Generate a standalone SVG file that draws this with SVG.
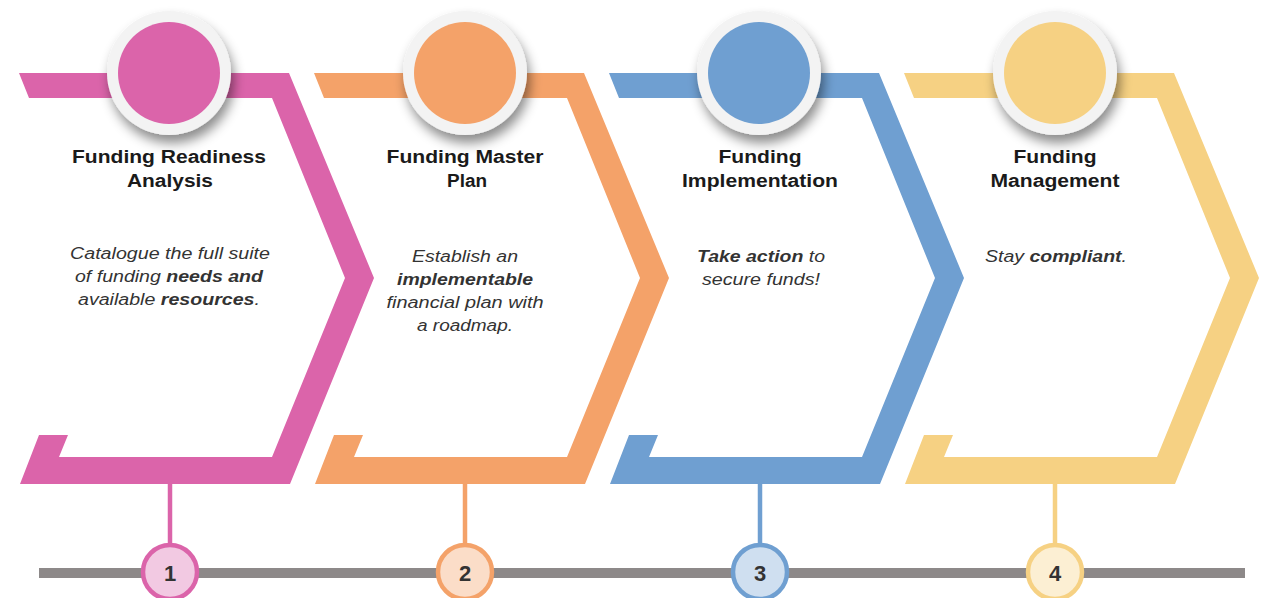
<svg xmlns="http://www.w3.org/2000/svg" width="1263" height="598" viewBox="0 0 1263 598">
<defs>
<filter id="sh" x="-40%" y="-40%" width="180%" height="190%">
<feDropShadow dx="3" dy="8" stdDeviation="6" flood-color="#000" flood-opacity="0.45"/>
</filter>
<path id="chev" d="M19,73 L289,73 L374,278 L290,484 L20,484 L39,435 L68,435 L59,457 L272,457 L345,278 L272,98 L29,98 Z"/>
</defs>
<style>
.title{font-family:"Liberation Sans",Arial,sans-serif;font-weight:bold;font-size:18px;fill:#1a1a1a;text-anchor:middle}
.desc{font-family:"Liberation Sans",Arial,sans-serif;font-style:italic;font-size:16px;fill:#333;text-anchor:middle}
.b{font-weight:bold}
.num{font-family:"Liberation Sans",Arial,sans-serif;font-weight:bold;font-size:22px;fill:#333;text-anchor:middle}
.ring{fill:#f3f3f3}
</style>
<rect width="1263" height="598" fill="#fff"/>
<g id="connectors">
<rect x="39" y="568" width="1206" height="10" fill="#8d8989"/>
<line x1="170" y1="484" x2="170" y2="545" stroke="#db64aa" stroke-width="4.5"/>
<line x1="465" y1="484" x2="465" y2="545" stroke="#f4a269" stroke-width="4.5"/>
<line x1="760" y1="484" x2="760" y2="545" stroke="#6f9fd1" stroke-width="4.5"/>
<line x1="1055" y1="484" x2="1055" y2="545" stroke="#f6d183" stroke-width="4.5"/>
</g>
<g id="step1">
<use href="#chev" fill="#db64aa"/>
<circle cx="169" cy="73" r="62" class="ring" filter="url(#sh)"/>
<circle cx="169" cy="73" r="51" fill="#db64aa"/>
<text class="title" x="169" y="163" textLength="194" lengthAdjust="spacingAndGlyphs">Funding Readiness</text>
<text class="title" x="170" y="187" textLength="86" lengthAdjust="spacingAndGlyphs">Analysis</text>
<text class="desc" x="170" y="259" textLength="200" lengthAdjust="spacingAndGlyphs">Catalogue the full suite</text>
<text class="desc" x="169" y="282" textLength="188" lengthAdjust="spacingAndGlyphs">of funding <tspan class="b">needs and</tspan></text>
<text class="desc" x="169" y="305" textLength="182" lengthAdjust="spacingAndGlyphs">available <tspan class="b">resources</tspan>.</text>
<circle cx="170" cy="572" r="27" fill="#f2c9e2" stroke="#db64aa" stroke-width="4.5"/>
<text class="num" x="170" y="581">1</text>
</g>
<g id="step2">
<use href="#chev" fill="#f4a269" transform="translate(295,0)"/>
<circle cx="465" cy="73" r="62" class="ring" filter="url(#sh)"/>
<circle cx="465" cy="73" r="51" fill="#f4a269"/>
<text class="title" x="465" y="163" textLength="157" lengthAdjust="spacingAndGlyphs">Funding Master</text>
<text class="title" x="467" y="187" textLength="40" lengthAdjust="spacingAndGlyphs">Plan</text>
<text class="desc" x="465" y="262" textLength="106" lengthAdjust="spacingAndGlyphs">Establish an</text>
<text class="desc b" x="465" y="285" textLength="136" lengthAdjust="spacingAndGlyphs">implementable</text>
<text class="desc" x="465" y="308" textLength="157" lengthAdjust="spacingAndGlyphs">financial plan with</text>
<text class="desc" x="465" y="331" textLength="96" lengthAdjust="spacingAndGlyphs">a roadmap.</text>
<circle cx="465" cy="572" r="27" fill="#fbddc8" stroke="#f4a269" stroke-width="4.5"/>
<text class="num" x="465" y="581">2</text>
</g>
<g id="step3">
<use href="#chev" fill="#6f9fd1" transform="translate(590,0)"/>
<circle cx="759" cy="73" r="62" class="ring" filter="url(#sh)"/>
<circle cx="759" cy="73" r="51" fill="#6f9fd1"/>
<text class="title" x="760" y="163" textLength="83" lengthAdjust="spacingAndGlyphs">Funding</text>
<text class="title" x="760" y="187" textLength="156" lengthAdjust="spacingAndGlyphs">Implementation</text>
<text class="desc" x="761" y="262" textLength="128" lengthAdjust="spacingAndGlyphs"><tspan class="b">Take action</tspan> to</text>
<text class="desc" x="761" y="285" textLength="118" lengthAdjust="spacingAndGlyphs">secure funds!</text>
<circle cx="760" cy="572" r="27" fill="#cfdff0" stroke="#6f9fd1" stroke-width="4.5"/>
<text class="num" x="760" y="581">3</text>
</g>
<g id="step4">
<use href="#chev" fill="#f6d183" transform="translate(885,0)"/>
<circle cx="1055" cy="73" r="62" class="ring" filter="url(#sh)"/>
<circle cx="1055" cy="73" r="51" fill="#f6d183"/>
<text class="title" x="1055" y="163" textLength="83" lengthAdjust="spacingAndGlyphs">Funding</text>
<text class="title" x="1055" y="187" textLength="129" lengthAdjust="spacingAndGlyphs">Management</text>
<text class="desc" x="1056" y="262" textLength="142" lengthAdjust="spacingAndGlyphs">Stay <tspan class="b">compliant</tspan>.</text>
<circle cx="1055" cy="572" r="27" fill="#fcefd3" stroke="#f6d183" stroke-width="4.5"/>
<text class="num" x="1055" y="581">4</text>
</g>
</svg>
